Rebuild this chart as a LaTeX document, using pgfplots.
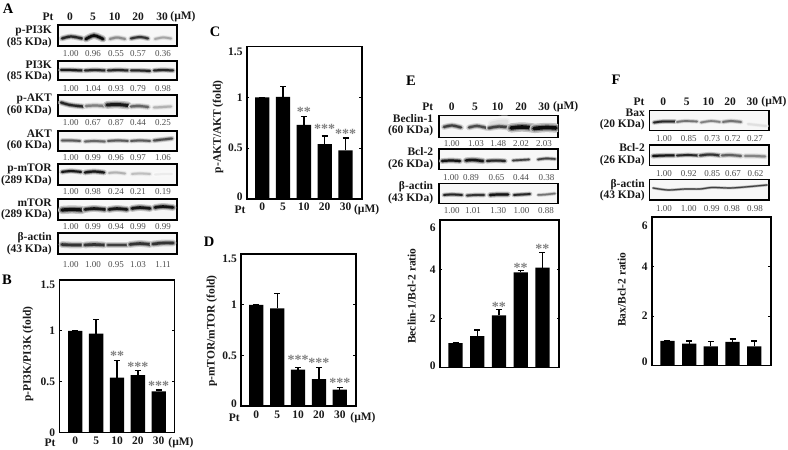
\documentclass[border=0pt]{standalone}
\usepackage{fontspec}
\setmainfont{Liberation Serif}
\usepackage{pgfplots}
\pgfplotsset{compat=1.18}
\tikzset{
  lab/.style={font=\fontsize{11.5}{12}\selectfont\bfseries,inner sep=0pt,text=black!90},
  num/.style={font=\fontsize{9}{10}\selectfont,inner sep=0pt,text=black!70},
  ttl/.style={font=\fontsize{14.5}{15}\selectfont\bfseries,inner sep=0pt},
  star/.style={font=\fontsize{14}{14}\selectfont\bfseries,inner sep=0pt,text=black!50,yshift=-2.5pt},
  ylab/.style={font=\fontsize{11.5}{12}\selectfont\bfseries,text=black!90,inner sep=0pt,rotate=90,anchor=center},
}
\pgfplotsset{
  blotax/.style={scale only axis,y dir=reverse,xtick=\empty,ytick=\empty,
    axis line style={line width=1.5pt,black},clip=true,no markers,
    axis background/.style={fill=black!3}},
  barax/.style={scale only axis,xtick={0,1,2,3,4},ymin=0,
    axis line style={line width=1.6pt,black},
    xtick style={draw=none},ytick style={black,line width=1pt},
    tick align=inside,major tick length=2.5pt,
    ticklabel style={font=\fontsize{11.5}{12}\selectfont\bfseries,text=black!90},
    yticklabel style={inner sep=0pt,xshift=-4pt},
    xticklabel style={inner sep=0pt,yshift=-4pt},
    extra y tick style={yticklabel style={yshift=-5pt}},
  },
  ebar/.style={ybar,bar width=14.3pt,fill=black,draw=none,
    error bars/.cd,y dir=plus,y explicit,
    error bar style={line width=1.3pt,black},
    error mark options={rotate=90,mark size=3pt,line width=1.3pt,black}},
}
\newcommand\band[3]{%
  \addplot[smooth,line cap=round,line width=2.6*#2 pt,color=black!#1!white!25] coordinates {#3};
  \addplot[smooth,line cap=round,line width=1.7*#2 pt,color=black!#1!white!55] coordinates {#3};
  \addplot[smooth,line cap=round,line width=#2 pt,color=black!#1] coordinates {#3};
}
\newcommand\blot[5]{%
  \pgfmathsetmacro\bb{450-#4}\pgfmathsetmacro\bw{#3-#1}\pgfmathsetmacro\bh{#4-#2}%
  \begin{axis}[blotax,at={(#1pt,\bb pt)},width=\bw pt,height=\bh pt,
    xmin=#1,xmax=#3,ymin=#2,ymax=#4]
  #5
  \end{axis}%
}
\newcommand\T[4][lab]{\node[#1] at (#2,{450-#3}) {#4};}
\newcommand\TR[3]{\node[lab,anchor=mid east] at (#1,{450-#2}) {#3};}
\newcommand\numrow[2]{\foreach \a/\b in {#2} {\node[num] at (\a,{450-#1}) {\b};}}
\newcommand\hdr[2]{\foreach \a/\b in {#2} {\node[lab] at (\a,{450-#1}) {\b};}}
\begin{document}
\begin{tikzpicture}[x=1pt,y=1pt]
\useasboundingbox (0,0) rectangle (788,450);
% ===== Panel A =====
\T[ttl]{8}{9}{A}
\hdr{17}{48/Pt,70/0,93/5,114.5/10,138/20,162/30,183/(µM)}
\TR{52}{31}{p-PI3K}\TR{52}{43}{(85 KDa)}
\TR{52}{66}{PI3K}\TR{52}{77}{(85 KDa)}
\TR{52}{99}{p-AKT}\TR{52}{111}{(60 KDa)}
\TR{52}{135}{AKT}\TR{52}{146}{(60 KDa)}
\TR{52}{169}{p-mTOR}\TR{52}{181}{(289 KDa)}
\TR{52}{204}{mTOR}\TR{52}{215}{(289 KDa)}
\TR{52}{238}{β-actin}\TR{52}{250}{(43 KDa)}
\numrow{54}{70.7/1.00,93/0.96,116/0.55,138/0.57,163/0.36}
\numrow{89}{70.7/1.00,93/1.04,116/0.93,138/0.79,163/0.98}
\numrow{123}{70.7/1.00,93/0.67,116/0.87,138/0.44,163/0.25}
\numrow{158}{70.7/1.00,93/0.99,116/0.96,138/0.97,163/1.06}
\numrow{192}{70.7/1.00,93/0.98,116/0.24,138/0.21,163/0.19}
\numrow{227}{70.7/1.00,93/0.99,116/0.94,138/0.99,163/0.99}
\numrow{265}{70.7/1.00,93/1.00,116/0.95,138/1.03,163/1.11}
\blot{58}{25}{177}{46}{
 \band{85}{2.2}{(62,38.5)(71,36.5)(82,38.5)}
 \band{95}{2.6}{(86,39)(94,35.5)(103,39)}
 \band{45}{2}{(110,39)(117,37.5)(125,39)}
 \band{80}{2}{(131,38.5)(140,37)(148,38.5)}
 \band{35}{1.8}{(155,39)(163,37.5)(171,38.5)}
}
\blot{58}{61}{177}{80}{
 \band{90}{2}{(61,70)(71,70)(82,70.5)}
 \band{85}{2}{(85,70.5)(95,70)(105,70.5)}
 \band{85}{2}{(108,70.5)(118,70)(128,70.5)}
 \band{85}{2}{(131,70.5)(140,70.5)(150,71)}
 \band{85}{2}{(154,70.5)(163,70)(173,70.5)}
}
\blot{58}{95}{177}{116}{
 \band{85}{2.2}{(61,102.5)(70,105)(83,106.5)}
 \band{50}{2.2}{(86,106)(95,105.5)(104,106)}
 \band{90}{3}{(107,105)(117,104.5)(128,105.5)}
 \band{60}{2.2}{(131,106.5)(139,106)(148,107)}
 \band{30}{2}{(154,107.5)(163,107)(171,106.5)}
}
\blot{58}{131}{177}{151}{
 \band{65}{1.8}{(62,140.5)(71,140.5)(80,141)}
 \band{60}{1.8}{(85,141.5)(94,141)(105,141.5)}
 \band{65}{1.8}{(108,141)(118,140.5)(128,141)}
 \band{65}{1.8}{(131,141)(140,140.5)(150,141)}
 \band{70}{2}{(154,140.5)(163,139.5)(172,138.5)}
}
\blot{58}{164}{177}{185}{
 \band{90}{2}{(62,172)(71,171)(81,172)}
 \band{90}{2.2}{(85,172.5)(94,171.5)(104,172.5)}
 \band{30}{1.8}{(109,173)(116,172.5)(125,173.5)}
 \band{25}{1.8}{(132,174)(140,173.5)(150,174)}
 \band{8}{1.8}{(155,174.5)(163,174)(172,174)}
}
\blot{58}{199}{177}{220}{
 \band{95}{3.2}{(62,210)(72,209.5)(82,210)}
 \band{92}{2.6}{(85,209.5)(94,208.5)(105,209.5)}
 \band{92}{2.6}{(109,209.5)(117,208.5)(127,209.5)}
 \band{92}{2.6}{(132,208.5)(140,207.5)(150,208.5)}
 \band{92}{2.6}{(155,207.5)(163,206.5)(173,207.5)}
}
\blot{58}{233}{177}{254}{
 \band{80}{2.6}{(62,244.5)(72,245)(81,245)}
 \band{80}{2.6}{(85,245)(94,244.5)(104,245)}
 \band{75}{2.6}{(108,245)(117,245)(127,245)}
 \band{80}{2.6}{(130,244.5)(140,243.5)(150,244.5)}
 \band{80}{2.6}{(153,244)(163,243)(173,243)}
}
% ===== Panel B =====
\T[ttl]{7}{280}{B}
\T{50}{443}{Pt}\T{181}{443}{(µM)}
\begin{axis}[barax,at={(59.3pt,17.3pt)},width=115pt,height=152.7pt,
  xmin=-0.767,xmax=4.748,ymax=1.5,
  xticklabels={0,5,10,20,30},
  ytick={0,0.5,1},yticklabels={0,0.5,1},
  extra y ticks={1.5},extra y tick labels={1.5},
  ylabel={p-PI3K/PI3K (fold)},
  every axis y label/.style={at={(axis description cs:-0.272,0.515)},ylab}]
\addplot[ebar] coordinates {(0,1) +- (0,0) (1,0.974) +- (0,0.136) (2,0.54) +- (0,0.17) (3,0.565) +- (0,0.045) (4,0.405) +- (0,0.015)};
\node[star] at (axis cs:2,0.78) {**};
\node[star] at (axis cs:3,0.67) {***};
\node[star] at (axis cs:4,0.484) {***};
\end{axis}
% ===== Panel C =====
\T[ttl]{215}{32}{C}
\T{240}{210}{Pt}\T{366.7}{210}{(µM)}
\begin{axis}[barax,at={(246.7pt,251pt)},width=115pt,height=152.3pt,
  xmin=-0.744,xmax=4.777,ymax=1.5,
  xticklabels={0,5,10,20,30},
  ytick={0,0.5,1},yticklabels={\raisebox{4.5pt}{0},0.5,1},
  extra y ticks={1.5},extra y tick labels={1.5},
  ylabel={p-AKT/AKT (fold)},
  every axis y label/.style={at={(axis description cs:-0.25,0.475)},ylab}]
\addplot[ebar] coordinates {(0,1) +- (0,0) (1,1.005) +- (0,0.1) (2,0.73) +- (0,0.085) (3,0.54) +- (0,0.08) (4,0.48) +- (0,0.12)};
\node[star] at (axis cs:2,0.885) {**};
\node[star] at (axis cs:3,0.72) {***};
\node[star] at (axis cs:4,0.67) {***};
\end{axis}
% ===== Panel D =====
\T[ttl]{209}{242}{D}
\T{234.3}{417.3}{Pt}\T{363}{417.3}{(µM)}
\begin{axis}[barax,at={(241pt,43.7pt)},width=114.7pt,height=152.3pt,
  xmin=-0.734,xmax=4.76,ymax=1.5,
  xticklabels={0,5,10,20,30},
  ytick={0,0.5,1},yticklabels={\raisebox{6pt}{0},0.5,1},
  extra y ticks={1.5},extra y tick labels={1.5},
  ylabel={p-mTOR/mTOR (fold)},
  every axis y label/.style={at={(axis description cs:-0.255,0.494)},ylab}]
\addplot[ebar] coordinates {(0,1) +- (0,0) (1,0.965) +- (0,0.143) (2,0.36) +- (0,0.022) (3,0.268) +- (0,0.114) (4,0.163) +- (0,0.02)};
\node[star] at (axis cs:2,0.477) {***};
\node[star] at (axis cs:3,0.454) {***};
\node[star] at (axis cs:4,0.255) {***};
\end{axis}
% ===== Panel E =====
\T[ttl]{411}{81}{E}
\hdr{106.7}{427.7/Pt,451.7/0,475/5,497.7/10,521/20,544/30,565.7/(µM)}
\TR{433.3}{120}{Beclin-1}\TR{433.3}{131.7}{(60 KDa)}
\TR{433.3}{153}{Bcl-2}\TR{433.3}{165}{(26 KDa)}
\TR{433.3}{187}{β-actin}\TR{433.3}{199}{(43 KDa)}
\numrow{143.3}{451.7/1.00,476/1.03,498.3/1.48,521/2.02,544/2.03}
\numrow{177.3}{451/1.00,471/0.89,496.5/0.65,521/0.44,546.5/0.38}
\numrow{211}{451.7/1.00,473/1.01,498.3/1.30,521.5/1.00,546/0.88}
\blot{439}{115.7}{558}{137.3}{
 \band{75}{2.2}{(444,127)(452,125.5)(461,127.5)}
 \band{70}{2.2}{(469,127.5)(477,126)(487,128)}
 \band{12}{5}{(492,124)(499,122.5)(506,122)}
 \band{75}{2.4}{(489,128)(499,126.5)(510,127.5)}
 \band{95}{3.6}{(511,128)(522,127)(533,128)}
 \band{95}{3.6}{(534,128.5)(546,127.5)(556,128)}
}
\blot{439}{149}{558}{169.7}{
 \band{92}{2.2}{(442,161)(451,160.5)(460,161)}
 \band{92}{2.4}{(466,160.5)(473,160)(483,161)}
 \band{85}{2}{(487,161)(496,160.5)(505,161)}
 \band{75}{1.6}{(513,160.5)(521,160)(529,159.5)}
 \band{75}{1.6}{(538,159.5)(546,158.5)(555,159)}
}
\blot{439}{183.7}{558}{203.3}{
 \band{85}{1.8}{(444,195)(452,194.5)(462,195)}
 \band{80}{1.8}{(467,195.5)(475,195)(484,195)}
 \band{92}{2.2}{(490,195)(498,194.5)(508,194.5)}
 \band{85}{1.8}{(514,195)(522,194.5)(530,194)}
 \band{55}{1.5}{(538,195)(546,194.5)(555,193.5)}
}
\begin{axis}[barax,at={(439.7pt,82.3pt)},width=119.3pt,height=147.7pt,
  xmin=-0.727,xmax=4.76,ymax=6,
  xtick=\empty,
  ytick={0,2,4},yticklabels={\raisebox{4pt}{0},2,4},
  extra y ticks={6},extra y tick labels={6},
  extra y tick style={yticklabel style={yshift=-3pt}},
  ylabel={Beclin-1/Bcl-2 ratio},
  every axis y label/.style={at={(axis description cs:-0.235,0.485)},ylab}]
\addplot[ebar] coordinates {(0,1.0) +- (0,0) (1,1.287) +- (0,0.243) (2,2.13) +- (0,0.24) (3,3.875) +- (0,0.085) (4,4.065) +- (0,0.605)};
\node[star] at (axis cs:2,2.57) {**};
\node[star] at (axis cs:3,4.17) {**};
\node[star] at (axis cs:4,4.92) {**};
\end{axis}
% ===== Panel F =====
\T[ttl]{616}{80}{F}
\hdr{102}{639/Pt,663.3/0,686.7/5,708.3/10,730/20,752.3/30,774/(µM)}
\TR{645}{114}{Bax}\TR{645}{125.7}{(20 KDa)}
\TR{645}{149.3}{Bcl-2}\TR{645}{161.7}{(26 KDa)}
\TR{645}{185}{β-actin}\TR{645}{196.7}{(43 KDa)}
\numrow{138.7}{664/1.00,688.7/0.85,712.3/0.73,732.7/0.72,755/0.27}
\numrow{174}{664/1.00,688.7/0.92,712.3/0.85,733/0.67,755.5/0.62}
\numrow{208.3}{664/1.00,688.7/1.00,711.7/0.99,732/0.98,755/0.98}
\blot{649.3}{110.7}{769}{130.7}{
 \band{85}{1.8}{(654,122.5)(663,121.5)(675,121.5)}
 \band{55}{1.6}{(677,122)(685,121)(697,121.5)}
 \band{50}{1.6}{(701,122.5)(711,121)(720,122)}
 \band{55}{1.8}{(723,122)(731,121)(741,122)}
 \band{12}{2}{(748,124)(757,125)(766,126)}
}
\blot{649.3}{145}{769}{165.7}{
 \band{92}{2}{(653,156)(665,155.5)(674,155.5)}
 \band{85}{1.8}{(677,155.5)(688,155)(698,155.5)}
 \band{80}{2}{(700,155.5)(710,154.5)(720,155.5)}
 \band{62}{2}{(722,155.5)(730,155)(741,156)}
 \band{48}{2}{(745,156)(755,156)(765,156.5)}
}
\blot{649.3}{179.3}{769}{200}{
 \band{75}{1.1}{(653,188)(668,190)(685,189)(700,189)(712,187.5)(730,188)(745,187)(767,185)}
}
\begin{axis}[barax,at={(651.7pt,84.3pt)},width=119pt,height=149pt,
  xmin=-0.727,xmax=4.76,ymax=6,
  xtick=\empty,
  ytick={0,2,4},yticklabels={\raisebox{8pt}{0},2,4},
  extra y ticks={6},extra y tick labels={6},
  extra y tick style={yticklabel style={yshift=-4pt}},
  ylabel={Bax/Bcl-2 ratio},
  every axis y label/.style={at={(axis description cs:-0.252,0.511)},ylab}]
\addplot[ebar] coordinates {(0,1.0) +- (0,0) (1,0.89) +- (0,0.11) (2,0.78) +- (0,0.2) (3,0.96) +- (0,0.12) (4,0.78) +- (0,0.22)};
\end{axis}
\end{tikzpicture}
\end{document}
